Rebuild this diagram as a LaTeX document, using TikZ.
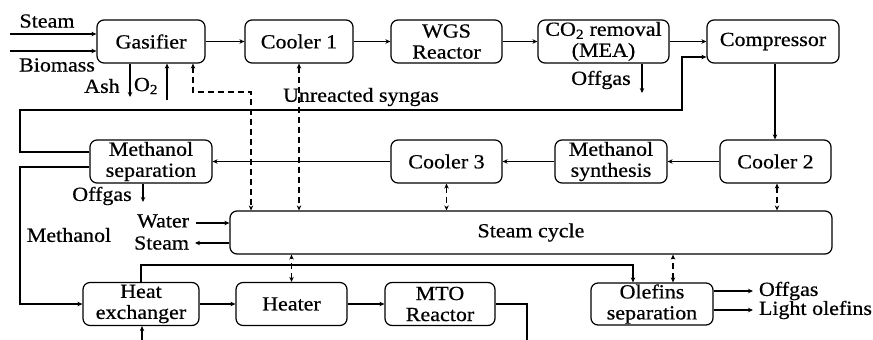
\documentclass[tikz,border=0pt]{standalone}
\usepackage{fontspec}
\setmainfont{Liberation Serif}[FakeStretch=1.1,FakeBold=0.6]
\usetikzlibrary{arrows.meta}

\begin{document}
\begin{tikzpicture}[x=1pt,y=-1pt,line width=1.2pt,
	every node/.style={font=\fontsize{20}{21}\selectfont},
	unit/.style={draw,rounded corners=7pt,align=center,inner sep=0pt,minimum height=43pt},
	arr/.style={-{Stealth[length=5pt,width=4.5pt]}},
	dasharr/.style={{Stealth[length=5pt,width=4.5pt]}-{Stealth[length=5pt,width=4.5pt]},dashed,dash pattern=on 6pt off 4pt}]
	\useasboundingbox (0,0) rectangle (873,340);
	% top row
	\node[unit,minimum width=108pt] (gas) at (151,41.5) {Gasifier};
	\node[unit,minimum width=108pt] (cool1) at (299,41.5) {Cooler 1};
	\node[unit,minimum width=111pt] (wgs) at (446.5,41.5) {WGS\\Reactor};
	\node[unit,minimum width=131pt] (co2) at (603.5,41.5) {CO\textsubscript{2} removal\\(MEA)};
	\node[unit,minimum width=132pt] (comp) at (773,41.5) {Compressor};
	% middle row
	\node[unit,minimum width=122pt] (msep) at (151,161.5) {Methanol\\separation};
	\node[unit,minimum width=111pt] (cool3) at (446.5,161.5) {Cooler 3};
	\node[unit,minimum width=112pt] (msyn) at (611,161.5) {Methanol\\synthesis};
	\node[unit,minimum width=111pt] (cool2) at (775.5,161.5) {Cooler 2};
	\node[unit,minimum width=602pt] (steam) at (531,232.5) {Steam cycle};
	% bottom row
	\node[unit,minimum width=116pt] (hx) at (141,304) {Heat\\exchanger};
	\node[unit,minimum width=111pt] (heater) at (291.5,304) {Heater};
	\node[unit,minimum width=110pt] (mto) at (440,304) {MTO\\Reactor};
	\node[unit,minimum width=122pt,minimum height=42pt] (olef) at (652,304) {Olefins\\separation};
	% free ends and bends
	\coordinate (steamin) at (10,34);
	\coordinate (bioin) at (10,51);
	\coordinate (ashout) at (130,97);
	\coordinate (o2in) at (167,100);
	\coordinate (dbend) at (251,92);
	\coordinate (offg1) at (642,93);
	\coordinate (offg2) at (143,202);
	\coordinate (waterin) at (196,223);
	\coordinate (steamout) at (195,243);
	\coordinate (hxbend) at (633,265);
	\coordinate (mtoout) at (527,340);
	\coordinate (hxin) at (142,340);
	\coordinate (offg3) at (753,291);
	\coordinate (lightout) at (753,310);
	% gasification train
	\draw[arr] (steamin) -- (steamin -| gas.west);
	\draw[arr] (bioin) -- (bioin -| gas.west);
	\node (steamlbl) at (47,21) {Steam};
	\node (biolbl) at (57,65) {Biomass};
	\draw[arr] (gas.south -| ashout) -- (ashout);
	\draw[arr] (o2in) -- (o2in |- gas.south);
	\node (ashlbl) at (102,86) {Ash};
	\node (o2lbl) at (146,86) {O\textsubscript{2}};
	\draw[arr] (gas) -- (cool1);
	\draw[arr] (cool1) -- (wgs);
	\draw[arr] (wgs) -- (co2);
	\draw[arr] (co2) -- (comp);
	\draw[arr] (co2.south -| offg1) -- (offg1);
	\node (offlbl1) at (601,80) {Offgas};
	% steam links
	\draw[dasharr] ([xshift=42pt]gas.south) |- (dbend) -- (dbend |- steam.north);
	\draw[dasharr] (cool1.south) -- (cool1.south |- steam.north);
	\draw[dasharr] (cool3.south) -- (cool3.south |- steam.north);
	\draw[dasharr] ([xshift=1.5pt]cool2.south) -- ([xshift=1.5pt]cool2.south |- steam.north);
	\draw[dasharr] (heater.north) -- (heater.north |- steam.south);
	\draw[dasharr] ([xshift=21pt]olef.north) -- ([xshift=21pt]olef.north |- steam.south);
	\draw[arr] (waterin) -- (waterin -| steam.west);
	\draw[arr] (steamout -| steam.west) -- (steamout);
	\node[anchor=east] (waterlbl) at (193,221) {Water};
	\node[anchor=east] (steamlbl2) at (193,243) {Steam};
	% methanol loop
	\draw[arr] ([xshift=2pt]comp.south) -- ([xshift=2pt]comp.south |- cool2.north);
	\draw[arr] (cool2) -- (msyn);
	\draw[arr] (msyn) -- (cool3);
	\draw[arr] (cool3) -- (msep);
	\draw[arr] ([yshift=9.5pt]msep.west) -| (20,110) -| (682,57) -- (comp.west |- 682,57);
	\node (synlbl) at (361,97) {Unreacted syngas};
	\draw[arr] (msep.south -| offg2) -- (offg2);
	\node (offlbl2) at (102,196) {Offgas};
	\draw[arr] ([yshift=-5.5pt]msep.west) -| (20,304) -- (hx.west);
	\node (methlbl) at (69,235) {Methanol};
	% olefins
	\draw[arr] (hx) -- (heater);
	\draw[arr] (heater) -- (mto);
	\draw (mto.east) -| (mtoout);
	\draw[arr] (hxin) -- (hxin |- hx.south);
	\draw[arr] (hx.north) |- (hxbend) -- (hxbend |- olef.north);
	\draw[arr] (offg3 -| olef.east) -- (offg3);
	\draw[arr] (lightout -| olef.east) -- (lightout);
	\node[anchor=west] (offlbl3) at (755,291) {Offgas};
	\node[anchor=west] (lightlbl) at (755,310) {Light olefins};
\end{tikzpicture}
\end{document}
